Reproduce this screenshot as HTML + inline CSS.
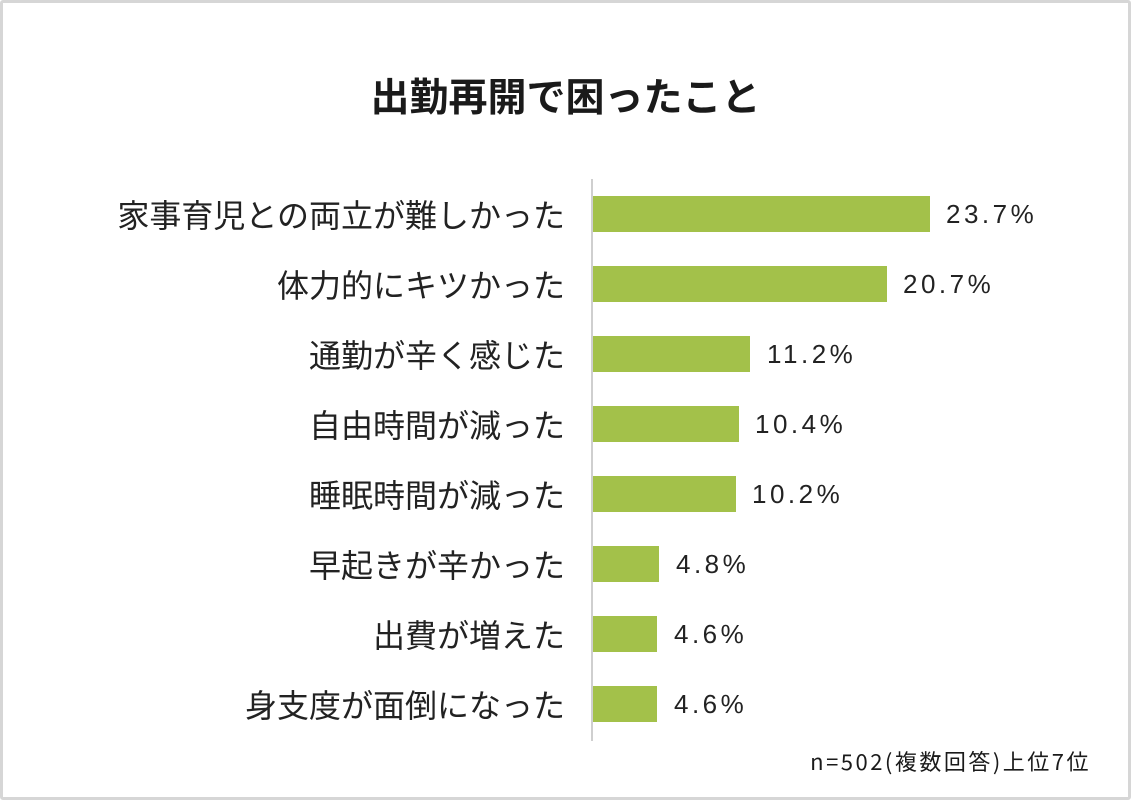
<!DOCTYPE html>
<html><head><meta charset="utf-8"><style>
*{margin:0;padding:0}
body{width:1131px;height:800px;background:#fff;position:relative;overflow:hidden;font-family:"Liberation Sans","Noto Sans CJK JP",sans-serif;color:#1a1a1a}
.frame{position:absolute;left:0;top:0;width:1125px;height:794px;border:3px solid #d6d6d6;border-radius:3px}
.title{position:absolute;left:0;width:1131px;top:70px;text-align:center;font-size:39px;font-weight:bold;font-family:"Noto Sans CJK JP",sans-serif;line-height:50px}
.axis{position:absolute;left:591px;top:179px;width:2px;height:562px;background:#cfcfcf}
.lab{position:absolute;right:566px;font-size:32px;font-family:"Noto Sans CJK JP",sans-serif;line-height:36px;white-space:nowrap;color:#222}
.bar{position:absolute;left:593px;height:36px;background:#a3c14a}
.val{position:absolute;font-size:26px;line-height:36px;letter-spacing:3.5px;color:#222}
.note{position:absolute;right:40px;top:745px;font-size:22px;font-family:"Noto Sans CJK JP",sans-serif;letter-spacing:2.5px}
</style></head><body>
<div class="frame"></div>
<div class="title">出勤再開で困ったこと</div>
<div class="axis"></div>

<div class="lab" style="top:196px">家事育児との両立が難しかった</div>
<div class="bar" style="top:196px;width:337px"></div>
<div class="val" style="top:196px;left:946px">23.7%</div>

<div class="lab" style="top:266px">体力的にキツかった</div>
<div class="bar" style="top:266px;width:294px"></div>
<div class="val" style="top:266px;left:903px">20.7%</div>

<div class="lab" style="top:336px">通勤が辛く感じた</div>
<div class="bar" style="top:336px;width:157px"></div>
<div class="val" style="top:336px;left:767px">11.2%</div>

<div class="lab" style="top:406px">自由時間が減った</div>
<div class="bar" style="top:406px;width:146px"></div>
<div class="val" style="top:406px;left:755px">10.4%</div>

<div class="lab" style="top:476px">睡眠時間が減った</div>
<div class="bar" style="top:476px;width:143px"></div>
<div class="val" style="top:476px;left:752px">10.2%</div>

<div class="lab" style="top:546px">早起きが辛かった</div>
<div class="bar" style="top:546px;width:66px"></div>
<div class="val" style="top:546px;left:676px">4.8%</div>

<div class="lab" style="top:616px">出費が増えた</div>
<div class="bar" style="top:616px;width:64px"></div>
<div class="val" style="top:616px;left:674px">4.6%</div>

<div class="lab" style="top:686px">身支度が面倒になった</div>
<div class="bar" style="top:686px;width:64px"></div>
<div class="val" style="top:686px;left:674px">4.6%</div>

<div class="note">n=502(複数回答)上位7位</div>
</body></html>
